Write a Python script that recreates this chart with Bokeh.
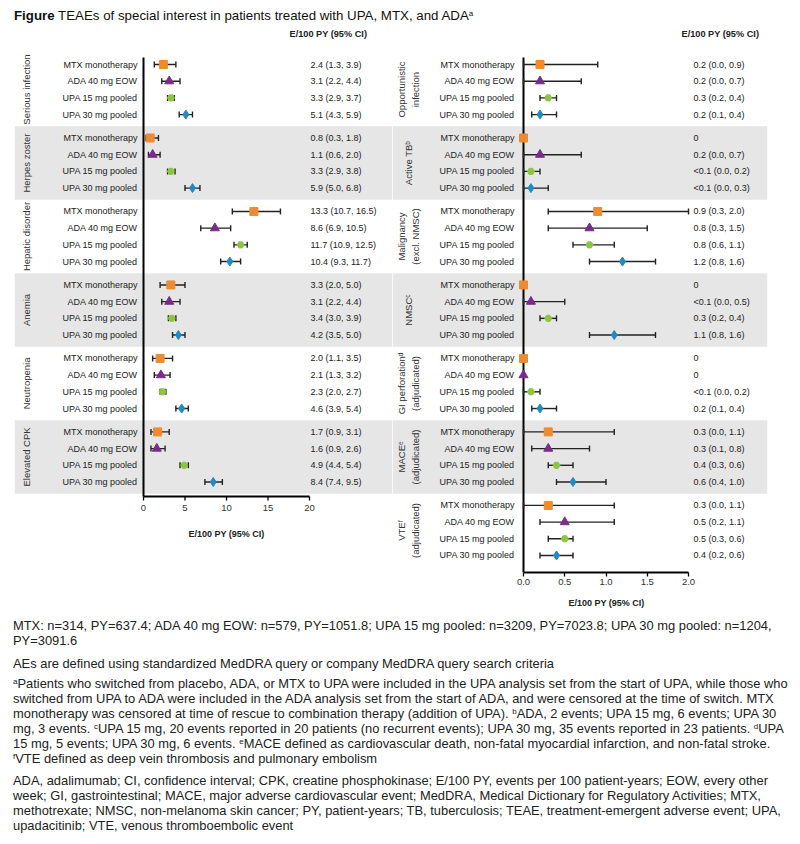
import math
from bokeh.plotting import figure
from bokeh.models import ColumnDataSource, Range1d, FixedTicker, BoxAnnotation, Div, Title
from bokeh.layouts import column, row
from bokeh.core.properties import value
from bokeh.embed import file_html
from bokeh.resources import INLINE

# ---------------- data ----------------
treatments = ["MTX monotherapy", "ADA 40 mg EOW", "UPA 15 mg pooled", "UPA 30 mg pooled"]

left_groups = ["Serious infection", "Herpes zoster", "Hepatic disorder",
               "Anemia", "Neutropenia", "Elevated CPK"]
left_est = [[2.4, 3.1, 3.3, 5.1], [0.8, 1.1, 3.3, 5.9], [13.3, 8.6, 11.7, 10.4],
            [3.3, 3.1, 3.4, 4.2], [2.0, 2.1, 2.3, 4.6], [1.7, 1.6, 4.9, 8.4]]
left_lo = [[1.3, 2.2, 2.9, 4.3], [0.3, 0.6, 2.9, 5.0], [10.7, 6.9, 10.9, 9.3],
           [2.0, 2.2, 3.0, 3.5], [1.1, 1.3, 2.0, 3.9], [0.9, 0.9, 4.4, 7.4]]
left_hi = [[3.9, 4.4, 3.7, 5.9], [1.8, 2.0, 3.8, 6.8], [16.5, 10.5, 12.5, 11.7],
           [5.0, 4.4, 3.9, 5.0], [3.5, 3.2, 2.7, 5.4], [3.1, 2.6, 5.4, 9.5]]
left_txt = [["2.4 (1.3, 3.9)", "3.1 (2.2, 4.4)", "3.3 (2.9, 3.7)", "5.1 (4.3, 5.9)"],
            ["0.8 (0.3, 1.8)", "1.1 (0.6, 2.0)", "3.3 (2.9, 3.8)", "5.9 (5.0, 6.8)"],
            ["13.3 (10.7, 16.5)", "8.6 (6.9, 10.5)", "11.7 (10.9, 12.5)", "10.4 (9.3, 11.7)"],
            ["3.3 (2.0, 5.0)", "3.1 (2.2, 4.4)", "3.4 (3.0, 3.9)", "4.2 (3.5, 5.0)"],
            ["2.0 (1.1, 3.5)", "2.1 (1.3, 3.2)", "2.3 (2.0, 2.7)", "4.6 (3.9, 5.4)"],
            ["1.7 (0.9, 3.1)", "1.6 (0.9, 2.6)", "4.9 (4.4, 5.4)", "8.4 (7.4, 9.5)"]]
left_ticks = [0, 5, 10, 15, 20]
left_tick_labels = ["0", "5", "10", "15", "20"]

N = None
right_groups = ["Opportunistic\ninfection", "Active TB\u1d47", "Malignancy\n(excl. NMSC)",
                "NMSC\u1d9c", "GI perforation\u1d48\n(adjudicated)",
                "MACE\u1d49\n(adjudicated)", "VTE\u1da0\n(adjudicated)"]
right_est = [[0.2, 0.2, 0.3, 0.2], [0.0, 0.2, 0.09, 0.09], [0.9, 0.8, 0.8, 1.2],
             [0.0, 0.09, 0.3, 1.1], [0.0, 0.0, 0.09, 0.2], [0.3, 0.3, 0.4, 0.6],
             [0.3, 0.5, 0.5, 0.4]]
right_lo = [[0.0, 0.0, 0.2, 0.1], [N, 0.0, 0.0, 0.0], [0.3, 0.3, 0.6, 0.8],
            [N, 0.0, 0.2, 0.8], [N, N, 0.0, 0.1], [0.0, 0.1, 0.3, 0.4],
            [0.0, 0.2, 0.3, 0.2]]
right_hi = [[0.9, 0.7, 0.4, 0.4], [N, 0.7, 0.2, 0.3], [2.0, 1.5, 1.1, 1.6],
            [N, 0.5, 0.4, 1.6], [N, N, 0.2, 0.4], [1.1, 0.8, 0.6, 1.0],
            [1.1, 1.1, 0.6, 0.6]]
right_txt = [["0.2 (0.0, 0.9)", "0.2 (0.0, 0.7)", "0.3 (0.2, 0.4)", "0.2 (0.1, 0.4)"],
             ["0", "0.2 (0.0, 0.7)", "<0.1 (0.0, 0.2)", "<0.1 (0.0, 0.3)"],
             ["0.9 (0.3, 2.0)", "0.8 (0.3, 1.5)", "0.8 (0.6, 1.1)", "1.2 (0.8, 1.6)"],
             ["0", "<0.1 (0.0, 0.5)", "0.3 (0.2, 0.4)", "1.1 (0.8, 1.6)"],
             ["0", "0", "<0.1 (0.0, 0.2)", "0.2 (0.1, 0.4)"],
             ["0.3 (0.0, 1.1)", "0.3 (0.1, 0.8)", "0.4 (0.3, 0.6)", "0.6 (0.4, 1.0)"],
             ["0.3 (0.0, 1.1)", "0.5 (0.2, 1.1)", "0.5 (0.3, 0.6)", "0.4 (0.2, 0.6)"]]
right_ticks = [0, 0.5, 1.0, 1.5, 2.0]
right_tick_labels = ["0.0", "0.5", "1.0", "1.5", "2.0"]

axis_title = "E/100 PY (95% CI)"

# ---------------- style ----------------
FONT = "Liberation Sans"
COLORS = ["#EE8A30", "#7A2B8C", "#8CC63F", "#1F8AC6"]
MARKERS = ["square", "triangle", "hex", "diamond"]
MSIZES = [8, 9, 7, 9]
BAND = "#E6E6E6"
INK = "#222222"

ROW_PX = 16.7        # pixels per row
GROUP_STEP = 4.4     # rows per group block
FIRST_ROW = 64       # page y of first row
FIG_TOP = 26         # page y of figure top
FRAME_BOTTOM = 572   # page y of the (shared) frame bottom
BOTTOM_BORDER = 46   # room for the real x axis under the right frame


def u(px):
    """page-pixel y -> row units"""
    return (px - FIRST_ROW) / ROW_PX


def build_panel(groups, est, lo, hi, txt, ticks, tick_labels, fig_left, frame_left,
                frame_right, fig_right, zero_px, max_px, axis_y, label_dx, group_dx,
                value_dx, header_dx, real_axis):
    xmax = ticks[-1]
    ppu = (max_px - zero_px) / xmax
    x_start = -(zero_px - frame_left) / ppu
    x_end = xmax + (frame_right - max_px) / ppu
    y_top = u(FIG_TOP)
    y_bot = u(FRAME_BOTTOM)
    y_axis = u(axis_y)
    height = FRAME_BOTTOM - FIG_TOP + BOTTOM_BORDER

    p = figure(width=fig_right - fig_left, height=height,
               x_range=Range1d(x_start, x_end), y_range=Range1d(y_bot, y_top),
               min_border_left=frame_left - fig_left, min_border_right=fig_right - frame_right,
               min_border_top=0, min_border_bottom=BOTTOM_BORDER,
               y_axis_location=None, x_axis_location="below" if real_axis else None,
               toolbar_location=None, output_backend="svg",
               outline_line_color=None, background_fill_color="white",
               border_fill_color="white")
    p.xgrid.visible = False
    p.ygrid.visible = False

    # shaded bands for alternating groups
    for g in range(len(groups)):
        if g % 2 == 1:
            p.add_layout(BoxAnnotation(top=g * GROUP_STEP - 0.7, bottom=g * GROUP_STEP + 3.7,
                                       fill_color=BAND, fill_alpha=1.0, line_color=None,
                                       level="underlay"))

    ys, es, los, his, trts, txts, cols, mks, szs = [], [], [], [], [], [], [], [], []
    for g in range(len(groups)):
        for r in range(4):
            ys.append(g * GROUP_STEP + r)
            es.append(est[g][r])
            los.append(lo[g][r] if lo[g][r] is not None else float("nan"))
            his.append(hi[g][r] if hi[g][r] is not None else float("nan"))
            trts.append(treatments[r])
            txts.append(txt[g][r])
            cols.append(COLORS[r])
            mks.append(MARKERS[r])
            szs.append(MSIZES[r])
    src = ColumnDataSource(dict(y=ys, est=es, lo=los, hi=his, trt=trts, txt=txts,
                                color=cols, marker=mks, size=szs))

    # vertical axis line at 0
    p.segment(x0=[0], y0=[u(57)], x1=[0], y1=[y_axis], line_color="black", line_width=2)

    # CI whiskers
    p.segment(x0="lo", y0="y", x1="hi", y1="y", source=src, line_color=INK, line_width=1.4)
    p.scatter(x="lo", y="y", marker="dash", angle=math.pi / 2, size=6, line_color=INK,
              line_width=1.4, source=src)
    p.scatter(x="hi", y="y", marker="dash", angle=math.pi / 2, size=6, line_color=INK,
              line_width=1.4, source=src)

    # point estimates
    p.scatter(x="est", y="y", marker="marker", size="size", fill_color="color",
              line_color="color", source=src)

    # row labels
    p.text(x=0, y="y", text="trt", source=src, x_offset=label_dx, text_align="right",
           text_baseline="middle", text_font=value(FONT), text_font_size="9px",
           text_color=INK)
    # value labels
    p.text(x=xmax, y="y", text="txt", source=src, x_offset=value_dx, text_align="left",
           text_baseline="middle", text_font=value(FONT), text_font_size="9px",
           text_color=INK)
    # group labels
    gsrc = ColumnDataSource(dict(y=[g * GROUP_STEP + 1.5 for g in range(len(groups))],
                                 text=groups))
    p.text(x=0, y="y", text="text", source=gsrc, angle=math.pi / 2, x_offset=group_dx,
           text_align="center", text_baseline="middle", text_font=value(FONT),
           text_font_size="9.5px", text_color="#333333", text_line_height=1.2)
    # header
    p.text(x=[xmax], y=[u(33)], text=[axis_title], x_offset=header_dx,
           text_align="left", text_baseline="middle", text_font=value(FONT),
           text_font_size="9.2px", text_font_style="bold", text_color=INK)

    if real_axis:
        ax = p.xaxis[0]
        ax.bounds = (0, xmax)
        ax.ticker = FixedTicker(ticks=ticks)
        ax.major_label_overrides = {t: lab for t, lab in zip(ticks, tick_labels)}
        ax.axis_line_width = 2
        ax.axis_line_color = "black"
        ax.major_tick_line_color = "black"
        ax.major_tick_line_width = 1.3
        ax.major_tick_out = 4
        ax.major_tick_in = 0
        ax.minor_tick_line_color = None
        ax.major_label_text_font = FONT
        ax.major_label_text_font_size = "9.5px"
        ax.major_label_text_color = "#333333"
        ax.major_label_standoff = 2
        offset = (zero_px + max_px) / 2 - 37.5 - frame_left
        p.add_layout(Title(text=axis_title, align="left", offset=offset, standoff=16,
                           text_font=FONT, text_font_style="bold", text_font_size="9px",
                           text_color=INK), "below")
    else:
        # axis drawn inside the taller frame, at its own height
        tk = ColumnDataSource(dict(x=ticks, lab=tick_labels))
        p.segment(x0=[0], y0=[y_axis], x1=[xmax], y1=[y_axis], line_color="black",
                  line_width=2)
        p.segment(x0="x", y0=y_axis, x1="x", y1=y_axis + 4 / ROW_PX, source=tk,
                  line_color="black", line_width=1.3)
        p.text(x="x", y=y_axis + 11 / ROW_PX, text="lab", source=tk, text_align="center",
               text_baseline="middle", text_font=value(FONT), text_font_size="9.5px",
               text_color="#333333")
        p.text(x=[xmax / 2], y=[y_axis + 37 / ROW_PX], text=[axis_title],
               text_align="center", text_baseline="middle", text_font=value(FONT),
               text_font_size="9px", text_font_style="bold", text_color=INK)
    return p


left = build_panel(left_groups, left_est, left_lo, left_hi, left_txt, left_ticks,
                   left_tick_labels, fig_left=0, frame_left=14, frame_right=392, fig_right=392,
                   zero_px=143, max_px=309, axis_y=496, label_dx=-6, group_dx=-117,
                   value_dx=1, header_dx=-20, real_axis=False)
right = build_panel(right_groups, right_est, right_lo, right_hi, right_txt, right_ticks,
                    right_tick_labels, fig_left=392, frame_left=392, frame_right=767,
                    fig_right=800, zero_px=523, max_px=688, axis_y=572, label_dx=-9,
                    group_dx=-115, value_dx=5, header_dx=-7, real_axis=True)

# ---------------- texts ----------------
SUP = '<sup style="font-size:8px;line-height:0;vertical-align:4px">%s</sup>'
title_html = ('<div style="font-family:\'Liberation Sans\';font-size:13.3px;line-height:16px;'
              'padding-top:8px;padding-left:14px;color:#111;white-space:nowrap">'
              '<b>Figure</b> TEAEs of special interest in patients treated with UPA, MTX, and ADA'
              + SUP % "a" + '</div>')
title_div = Div(text=title_html, width=800, height=26, margin=(0, 0, 0, 0))

foot_pars = [
    ["MTX: n=314, PY=637.4; ADA 40 mg EOW: n=579, PY=1051.8; UPA 15 mg pooled: n=3209, PY=7023.8; UPA 30 mg pooled: n=1204,",
     "PY=3091.6"],
    ["AEs are defined using standardized MedDRA query or company MedDRA query search criteria"],
    [SUP % "a" + "Patients who switched from placebo, ADA, or MTX to UPA were included in the UPA analysis set from the start of UPA, while those who",
     "switched from UPA to ADA were included in the ADA analysis set from the start of ADA, and were censored at the time of switch. MTX",
     "monotherapy was censored at time of rescue to combination therapy (addition of UPA). " + SUP % "b" + "ADA, 2 events; UPA 15 mg, 6 events; UPA 30",
     "mg, 3 events. " + SUP % "c" + "UPA 15 mg, 20 events reported in 20 patients (no recurrent events); UPA 30 mg, 35 events reported in 23 patients. " + SUP % "d" + "UPA",
     "15 mg, 5 events; UPA 30 mg, 6 events. " + SUP % "e" + "MACE defined as cardiovascular death, non-fatal myocardial infarction, and non-fatal stroke.",
     SUP % "f" + "VTE defined as deep vein thrombosis and pulmonary embolism"],
    ["ADA, adalimumab; CI, confidence interval; CPK, creatine phosphokinase; E/100 PY, events per 100 patient-years; EOW, every other",
     "week; GI, gastrointestinal; MACE, major adverse cardiovascular event; MedDRA, Medical Dictionary for Regulatory Activities; MTX,",
     "methotrexate; NMSC, non-melanoma skin cancer; PY, patient-years; TB, tuberculosis; TEAE, treatment-emergent adverse event; UPA,",
     "upadacitinib; VTE, venous thromboembolic event"],
]
par_gaps = [0, 8, 5, 7]
html = ['<div style="font-family:\'Liberation Sans\';font-size:12.9px;line-height:15px;'
        'color:#222;padding-left:13px;white-space:nowrap">']
for gap, lines in zip(par_gaps, foot_pars):
    html.append('<div style="margin-top:%dpx">' % gap)
    for ln in lines:
        html.append('<div style="height:15px">%s</div>' % ln)
    html.append('</div>')
html.append('</div>')
foot_div = Div(text="".join(html), width=800, height=224, margin=(0, 0, 0, 0))

layout = column(title_div, row(left, right, spacing=0), foot_div, spacing=0)

open("out.html", "w").write(file_html(layout, INLINE))
